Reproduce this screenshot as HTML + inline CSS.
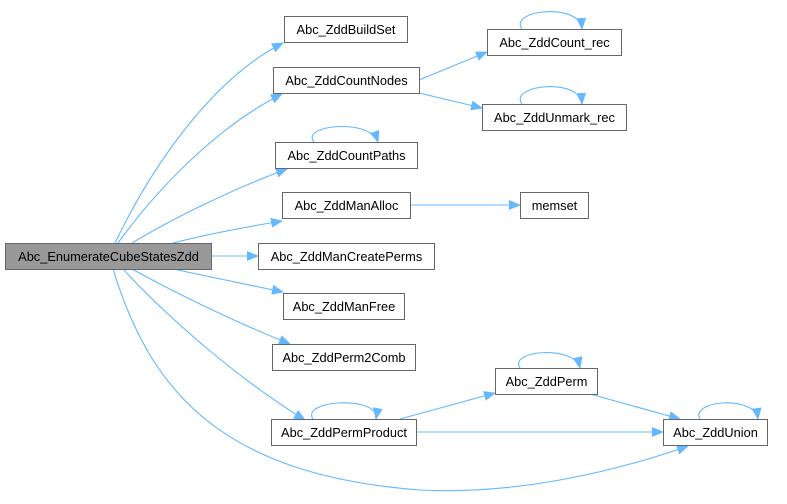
<!DOCTYPE html>
<html><head><style>body{margin:0;background:#fff}</style></head><body>
<svg width="787" height="499" xmlns="http://www.w3.org/2000/svg" font-family="Liberation Sans, Arial, sans-serif" font-size="12.8">
<defs><marker id="a" markerWidth="12" markerHeight="10" refX="11" refY="5" orient="auto" markerUnits="userSpaceOnUse"><path d="M0,0 L12,5 L0,10 Z" fill="#63b8ff"/></marker></defs>
<g fill="none" stroke="#63b8ff" stroke-width="1.1" marker-end="url(#a)">
<path d="M115,243 C150,170 210,80 283,43"/>
<path d="M118,243 C160,185 220,125 282,94"/>
<path d="M132,243 C170,220 230,190 287,169"/>
<path d="M173,243 C200,236 240,228 282,221"/>
<path d="M211,256 L258,256"/>
<path d="M173,269 C200,275 245,284 283,292"/>
<path d="M132,269 C170,290 230,320 290,344"/>
<path d="M123,269 C170,320 240,380 305,420"/>
<path d="M113,269 C150,390 220,475 420,490 C520,495 620,470 688,446"/>
<path d="M419,80 L487,52"/>
<path d="M419,93 L482,108"/>
<path d="M410,205 L520,205"/>
<path d="M400,419 L495,393"/>
<path d="M416,432 L663,432"/>
<path d="M590,394 L680,419"/>
<path d="M314,142 C300,125 370,118 378,142"/>
<path d="M522,29 C508,10 580,2 582,29"/>
<path d="M522,104 C508,85 580,77 582,104"/>
<path d="M520,368 C508,350 575,345 580,368"/>
<path d="M700,419 C690,400 755,395 758,419"/>
<path d="M313,419 C300,400 380,395 376,419"/>
</g>
<g stroke="#666" stroke-width="1" fill="#fff">
<rect x="5.5" y="243.5" width="206" height="26" fill="#999"/>
<rect x="284.5" y="16.5" width="123" height="26"/>
<rect x="273.5" y="67.5" width="146" height="26"/>
<rect x="275.5" y="142.5" width="142" height="26"/>
<rect x="282.5" y="192.5" width="128" height="26"/>
<rect x="258.5" y="243.5" width="176" height="26"/>
<rect x="283.5" y="293.5" width="121" height="26"/>
<rect x="272.5" y="344.5" width="143" height="26"/>
<rect x="271.5" y="419.5" width="145" height="26"/>
<rect x="487.5" y="29.5" width="134" height="26"/>
<rect x="482.5" y="104.5" width="144" height="26"/>
<rect x="520.5" y="192.5" width="68" height="26"/>
<rect x="495.5" y="368.5" width="102" height="26"/>
<rect x="663.5" y="419.5" width="104" height="26"/>
</g>
<g fill="#000" text-anchor="middle">
<text x="108.5" y="261">Abc_EnumerateCubeStatesZdd</text>
<text x="346" y="34">Abc_ZddBuildSet</text>
<text x="346.5" y="85">Abc_ZddCountNodes</text>
<text x="346.5" y="160">Abc_ZddCountPaths</text>
<text x="346.5" y="210">Abc_ZddManAlloc</text>
<text x="346.5" y="261">Abc_ZddManCreatePerms</text>
<text x="344" y="311">Abc_ZddManFree</text>
<text x="344" y="362">Abc_ZddPerm2Comb</text>
<text x="344" y="437">Abc_ZddPermProduct</text>
<text x="554.5" y="47">Abc_ZddCount_rec</text>
<text x="554.5" y="122">Abc_ZddUnmark_rec</text>
<text x="554.5" y="210">memset</text>
<text x="546.5" y="386">Abc_ZddPerm</text>
<text x="715.5" y="437">Abc_ZddUnion</text>
</g>
</svg>
</body></html>
